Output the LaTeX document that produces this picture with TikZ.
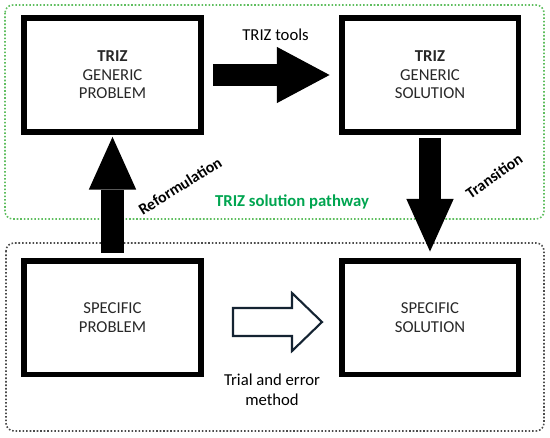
\documentclass[tikz,border=0pt]{standalone}
\usepackage{fontspec}
\setmainfont{Carlito}
\usetikzlibrary{arrows.meta}

\definecolor{pathgreen}{RGB}{0,165,80}
\definecolor{dotgreen}{RGB}{95,190,95}
\definecolor{boxtext}{RGB}{40,40,40}
\definecolor{navy}{RGB}{20,35,50}

\tikzset{
	stage/.style={draw, line width=3.4pt, minimum width=3.54cm, minimum height=2.28cm,
		align=center, text=boxtext, font=\fontsize{9.5}{10.5}\selectfont},
	frame/.style={line width=0.9pt, dash pattern=on 0.9pt off 1.1pt, rounded corners=4.5pt},
	bigarrow/.style={line width=13pt, -{Triangle[width=#1, length=30pt, line width=0pt]}},
	lbl/.style={font=\fontsize{9.5}{11}\selectfont},
}

\begin{document}
\begin{tikzpicture}[x=0.02cm, y=-0.02cm]
		\useasboundingbox (0, 0) rectangle (550, 437);
		% Frames: TRIZ pathway (top) and direct route (bottom).
		\draw[frame, dotgreen] (5, 5) rectangle (544, 219);
		\draw[frame, black!70] (6, 243) rectangle (544, 431);
		% The four stages.
		\node[stage] (gp) at (112.5, 75) {\textbf{TRIZ}\\GENERIC\\PROBLEM};
		\node[stage] (gs) at (430, 75) {\textbf{TRIZ}\\GENERIC\\SOLUTION};
		\node[stage] (sp) at (112.5, 317.5) {SPECIFIC\\PROBLEM};
		\node[stage] (ss) at (430, 317.5) {SPECIFIC\\SOLUTION};
		% Block arrows between the stages.
		\draw[bigarrow=32pt, line width=12.5pt, shorten <=5.1pt, shorten >=5.1pt] (gp.east) -- (gs.west);
		\draw[bigarrow=27pt, shorten <=2.8pt, shorten >=1.1pt] (sp.north) -- (gp.south);
		\draw[bigarrow=27pt, shorten <=1.7pt, shorten >=3.4pt] (gs.south) -- (ss.north);
		% Hollow arrow for trial and error.
		\coordinate (trial) at (233, 322);
		\draw[navy, line width=1.2pt, line join=miter] (trial) ++(0, -14) -- ++(59, 0) -- ++(0, -15)
			-- ++(30, 29) -- ++(-30, 29) -- ++(0, -15) -- ++(-59, 0) -- cycle;
		% Labels.
		\node[lbl] (tools) at (275.5, 35) {TRIZ tools};
		\node[lbl, font=\fontsize{9}{11}\selectfont\bfseries, rotate=32] (reform) at (180, 186) {Reformulation};
		\node[lbl, font=\fontsize{9}{11}\selectfont\bfseries, rotate=35] (trans) at (494, 176) {Transition};
		\node[lbl, font=\fontsize{9.5}{11}\selectfont\bfseries, text=pathgreen] (path) at (292, 202) {TRIZ solution pathway};
		\node[lbl, align=center, font=\fontsize{9.5}{11.5}\selectfont] (method) at (272, 390) {Trial and error\\method};
	\end{tikzpicture}
\end{document}
